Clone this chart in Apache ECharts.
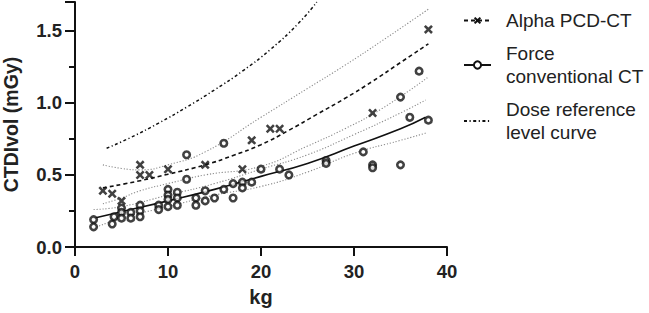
<!DOCTYPE html>
<html>
<head>
<meta charset="utf-8">
<script src="https://cdn.jsdelivr.net/npm/echarts@6/dist/echarts.min.js"></script>
<style>
  html, body { margin: 0; padding: 0; background: #fff; }
  #chart { width: 649px; height: 313px; }
</style>
</head>
<body>
<div id="chart"></div>
<script>
// measured points (kg, CTDIvol)
const alphaKg   = [3, 4, 5, 7, 7, 8, 10, 14, 18, 19, 21, 22, 32, 38];
const alphaDose = [0.39, 0.37, 0.32, 0.57, 0.50, 0.50, 0.54, 0.57, 0.54, 0.74, 0.82, 0.82, 0.93, 1.51];

const forceKg   = [2, 2, 4, 4.2, 5, 5, 5, 6, 6, 7, 7, 7, 9, 9, 10, 10, 10, 10, 11, 11, 11, 12, 12, 13, 13,
                   14, 14, 15, 16, 16, 17, 17, 18, 18, 19, 20, 22, 23, 27, 27, 31, 32, 32, 35, 35, 36, 37, 38];
const forceDose = [0.19, 0.14, 0.16, 0.21, 0.27, 0.24, 0.20, 0.24, 0.20, 0.29, 0.25, 0.21, 0.29, 0.26, 0.40, 0.36, 0.33, 0.28,
                   0.38, 0.34, 0.29, 0.64, 0.47, 0.34, 0.29, 0.39, 0.32, 0.34, 0.72, 0.40, 0.44, 0.34, 0.45, 0.41, 0.45,
                   0.54, 0.54, 0.50, 0.60, 0.58, 0.66, 0.57, 0.55, 0.57, 1.04, 0.90, 1.22, 0.88];

// fitted curves + confidence bands
const alphaFitKg   = [3, 7, 10, 14, 17, 20, 23, 26, 29, 32, 35, 38];
const alphaFitDose = [0.41, 0.46, 0.505, 0.57, 0.635, 0.71, 0.81, 0.92, 1.03, 1.15, 1.28, 1.41];
const alphaBandKg  = [3, 5, 7, 10, 14, 20, 25, 29, 33, 38];
const alphaUpper   = [0.57, 0.545, 0.535, 0.57, 0.66, 0.90, 1.10, 1.26, 1.43, 1.65];
const alphaLower   = [0.30, 0.34, 0.39, 0.44, 0.50, 0.56, 0.70, 0.82, 0.96, 1.18];

const forceFitKg   = [2, 5, 10, 15, 20, 25, 30, 35, 37.7];
const forceFitDose = [0.20, 0.245, 0.32, 0.40, 0.49, 0.58, 0.70, 0.82, 0.90];
const forceUpper   = [0.26, 0.28, 0.36, 0.44, 0.54, 0.64, 0.78, 0.93, 1.02];
const forceLower   = [0.13, 0.20, 0.28, 0.36, 0.42, 0.52, 0.65, 0.74, 0.79];

const drlKg   = [3.4, 6, 9, 12, 15, 18, 21, 24, 26];
const drlDose = [0.685, 0.76, 0.86, 0.97, 1.09, 1.22, 1.37, 1.55, 1.70];

const xTicks = [0, 10, 20, 30, 40];
const yTicks = [0, 0.5, 1.0, 1.5];

const INK = '#111';
const FONT = '"Liberation Sans", Arial, sans-serif';
const crossPath = 'path://M0,2L2,0L5,3L8,0L10,2L7,5L10,8L8,10L5,7L2,10L0,8L3,5Z';

const zip = (xs, ys) => xs.map((x, i) => [x, ys[i]]);

const bandStyle = { color: '#8a8a8a', width: 1.1, type: [1.2, 1.8] };
const band = (xs, ys) => ({
  type: 'line', data: zip(xs, ys), smooth: true, symbol: 'none',
  lineStyle: bandStyle, silent: true, z: 1
});

const chart = echarts.init(document.getElementById('chart'), null, { renderer: 'svg' });

chart.setOption({
  animation: false,
  backgroundColor: '#fff',
  // v6 would otherwise shrink the grid to fit the axis names
  grid: { left: 75, top: 2, width: 372, height: 245, outerBoundsMode: 'none', containLabel: false },
  legend: {
    orient: 'vertical',
    left: 458,
    top: 4,
    itemWidth: 27,
    itemHeight: 9,
    itemGap: 10,
    data: [
      'Alpha PCD-CT',
      'Force\nconventional CT',
      { name: 'Dose reference\nlevel curve', itemStyle: { opacity: 0 } }
    ],
    textStyle: { fontFamily: FONT, fontSize: 19, lineHeight: 23, color: '#222', padding: [0, 0, 0, 10] }
  },
  xAxis: {
    type: 'value', min: 0, max: 40, interval: 10,
    name: 'kg', nameLocation: 'middle', nameGap: 40,
    nameTextStyle: { fontFamily: FONT, fontSize: 20, fontWeight: 'bold', color: '#222' },
    axisLine: { lineStyle: { color: INK, width: 2 } },
    axisTick: { length: 9, lineStyle: { color: INK, width: 2 } },
    axisLabel: { margin: 15, fontFamily: FONT, fontSize: 18.5, fontWeight: 'bold', color: '#222',
                 formatter: v => xTicks.includes(v) ? String(v) : '' },
    splitLine: { show: false }
  },
  yAxis: [
    {
      type: 'value', min: 0, max: 1.7, interval: 0.5,
      name: 'CTDIvol (mGy)', nameLocation: 'middle', nameGap: 54,
      nameTextStyle: { fontFamily: FONT, fontSize: 19.5, fontWeight: 'bold', color: '#222' },
      axisLine: { lineStyle: { color: INK, width: 2 } },
      axisTick: { length: 10, lineStyle: { color: INK, width: 2 } },
      axisLabel: { margin: 13, fontFamily: FONT, fontSize: 18.5, fontWeight: 'bold', color: '#222',
                   formatter: v => yTicks.some(t => Math.abs(t - v) < 1e-6) ? v.toFixed(1) : '' },
      splitLine: { show: false }
    },
    {
      // short in-between ticks at the quarter steps
      type: 'value', min: 0, max: 1.7, interval: 0.25, position: 'left',
      axisLine: { show: false },
      axisTick: { length: 6, lineStyle: { color: INK, width: 2 } },
      axisLabel: { show: false },
      splitLine: { show: false }
    }
  ],
  series: [
    {
      name: 'Alpha PCD-CT', type: 'line', data: zip(alphaFitKg, alphaFitDose), smooth: true,
      symbol: crossPath, symbolSize: 9, showSymbol: false,
      itemStyle: { color: INK },
      lineStyle: { color: INK, width: 1.6, type: [4, 3] }, z: 3
    },
    {
      name: 'Force\nconventional CT', type: 'line', data: zip(forceFitKg, forceFitDose), smooth: true,
      symbol: 'emptyCircle', symbolSize: 8, showSymbol: false,
      itemStyle: { color: INK, borderWidth: 2.4 },
      lineStyle: { color: INK, width: 1.6 }, z: 3
    },
    {
      name: 'Dose reference\nlevel curve', type: 'line', data: zip(drlKg, drlDose), smooth: true,
      symbol: 'none',
      itemStyle: { color: INK },
      lineStyle: { color: INK, width: 1.5, type: [3, 2.5, 1.2, 2.5] }, z: 3
    },
    band(alphaBandKg, alphaUpper),
    band(alphaBandKg, alphaLower),
    band(forceFitKg, forceUpper),
    band(forceFitKg, forceLower),
    {
      name: 'alpha points', type: 'scatter', data: zip(alphaKg, alphaDose),
      symbol: crossPath, symbolSize: 9,
      itemStyle: { color: INK }, z: 5
    },
    {
      name: 'force points', type: 'scatter', data: zip(forceKg, forceDose),
      symbol: 'circle', symbolSize: 6.5,
      itemStyle: { color: '#fff', borderColor: INK, borderWidth: 2.6 }, z: 4
    }
  ]
});
</script>
</body>
</html>
